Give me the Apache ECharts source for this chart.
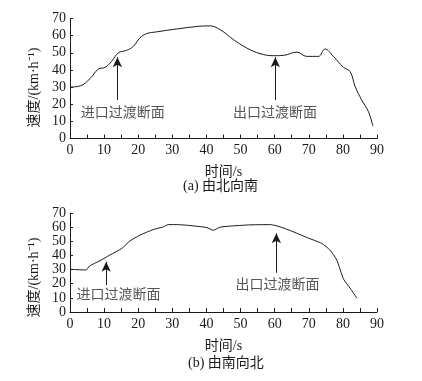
<!DOCTYPE html>
<html>
<head>
<meta charset="utf-8">
<script src="https://cdn.jsdelivr.net/npm/echarts@6/dist/echarts.min.js"></script>
<style>
html, body { margin: 0; padding: 0; background: #fff; }
#chart { width: 422px; height: 381px; }
</style>
</head>
<body>
<div id="chart"></div>
<script>
// (a) 由北向南
const timeA = [0, 3, 5.9, 8.3, 10.3, 12.2, 14.2, 16.6, 18.6, 20.5, 22.5, 25.4, 31.3, 38.1, 41, 44, 47.9, 51.8, 55.7, 59.6, 62.6, 66.5, 69.4, 72.8, 74.8, 77.2, 80.2, 82.1, 83.6, 85.5, 87.5, 88.8]
const speedA = [30, 30.7, 35, 40.5, 41.5, 45, 50, 51.4, 53.8, 58.7, 61.2, 62.2, 63.9, 65.5, 65.7, 63.5, 57.7, 52.8, 49.5, 48.3, 48.5, 50.4, 47.9, 47.9, 52.2, 47.9, 41.5, 39.1, 30.3, 22.5, 15.6, 7.2]
// (b) 由南向北
const timeB = [0, 4.7, 5.7, 8.8, 11.7, 15.2, 17.6, 20.5, 24.4, 27.4, 28.8, 31.3, 36.2, 40.1, 42, 44, 47.9, 52.8, 58.7, 61.6, 65.5, 69.4, 73.8, 76.2, 78.2, 80.2, 82.1, 84.1]
const speedB = [30.2, 29.7, 32.5, 36.3, 40.3, 45, 50.3, 54.3, 58.3, 60.2, 61.8, 61.8, 60.9, 59.7, 57.8, 60, 60.9, 61.6, 61.8, 60.2, 56.7, 52.7, 48.5, 43.8, 36.8, 23.2, 16.9, 9.8]

// annotations: [time, arrow start, arrow tip]
const arrowsA = [[13.9, 22.5, 47.4], [60.2, 22.5, 47.4]]
const arrowsB = [[10.6, 19.1, 35.6], [60.5, 27.8, 55.6]]
// [time, speed, text]
const labelsA = [[15.5, 14.9, '进口过渡断面'], [60.1, 14.9, '出口过渡断面']]
const labelsB = [[14.2, 12, '进口过渡断面'], [60.8, 19.1, '出口过渡断面']]

const xTicks = { min: 0, max: 90, interval: 10 }
const yTicks = { min: 0, max: 70, interval: 10 }

const font = "'Liberation Serif', 'Noto Sans CJK SC', serif"
const ink = '#1a1a1a'

function makeX(gridIndex) {
	return {
		type: 'value',
		gridIndex,
		min: xTicks.min,
		max: xTicks.max,
		interval: xTicks.interval,
		name: '时间/s',
		nameLocation: 'middle',
		nameGap: 27,
		nameTextStyle: { color: ink, fontFamily: font, fontSize: 14 },
		axisLine: { lineStyle: { color: ink, width: 1 } },
		axisTick: { inside: true, length: 4, lineStyle: { color: ink } },
		minorTick: { show: true, splitNumber: 2, length: 4, lineStyle: { color: ink } },
		axisLabel: { color: ink, fontFamily: font, fontSize: 14, margin: 5 },
		splitLine: { show: false }
	}
}

// shift pushes the rotated name downward along the axis
function makeY(gridIndex, shift) {
	return {
		type: 'value',
		gridIndex,
		min: yTicks.min,
		max: yTicks.max,
		interval: yTicks.interval,
		name: '速度/(km·h⁻¹)',
		nameLocation: 'middle',
		nameGap: 24,
		nameTextStyle: { color: ink, fontFamily: font, fontSize: 14, padding: [0, shift, 0, 0] },
		axisLine: { show: true, lineStyle: { color: ink, width: 1 } },
		axisTick: { show: true, inside: true, length: 3, lineStyle: { color: ink } },
		axisLabel: { color: ink, fontFamily: font, fontSize: 14, margin: 4 },
		splitLine: { show: false }
	}
}

function curve(idx, ts, vs, smooth) {
	return {
		type: 'line',
		xAxisIndex: idx,
		yAxisIndex: idx,
		data: ts.map((t, i) => [t, vs[i]]),
		showSymbol: false,
		smooth,
		lineStyle: { color: ink, width: 1 },
		silent: true
	}
}

function arrows(idx, list) {
	return {
		type: 'line',
		xAxisIndex: idx,
		yAxisIndex: idx,
		data: [],
		silent: true,
		markLine: {
			symbol: ['none', 'arrow'],
			symbolSize: [7, 10],
			label: { show: false },
			lineStyle: { color: ink, width: 1, type: 'solid' },
			data: list.map(a => [{ coord: [a[0], a[1]] }, { coord: [a[0], a[2]] }])
		}
	}
}

function labels(idx, list) {
	return {
		type: 'scatter',
		xAxisIndex: idx,
		yAxisIndex: idx,
		symbolSize: 0,
		silent: true,
		data: list.map(l => ({ value: [l[0], l[1]], name: l[2] })),
		label: {
			show: true,
			position: 'inside',
			formatter: '{b}',
			color: '#2a2a2a',
			fontFamily: font,
			fontSize: 14
		}
	}
}

const chart = echarts.init(document.getElementById('chart'))
chart.setOption({
	backgroundColor: '#fff',
	animation: false,
	title: [
		{ text: '(a) 由北向南', left: 178, top: 174, textStyle: { color: ink, fontFamily: font, fontSize: 14, fontWeight: 'normal' } },
		{ text: '(b) 由南向北', left: 183, top: 351, textStyle: { color: ink, fontFamily: font, fontSize: 14, fontWeight: 'normal' } }
	],
	grid: [
		{ left: 70, right: 45, top: 18.5, height: 120 },
		{ left: 70, right: 45, top: 213, height: 99 }
	],
	xAxis: [makeX(0), makeX(1)],
	yAxis: [makeY(0, 18), makeY(1, 30)],
	series: [
		curve(0, timeA, speedA, 0.4),
		curve(1, timeB, speedB, 0.2),
		arrows(0, arrowsA),
		arrows(1, arrowsB),
		labels(0, labelsA),
		labels(1, labelsB)
	]
})
</script>
</body>
</html>
